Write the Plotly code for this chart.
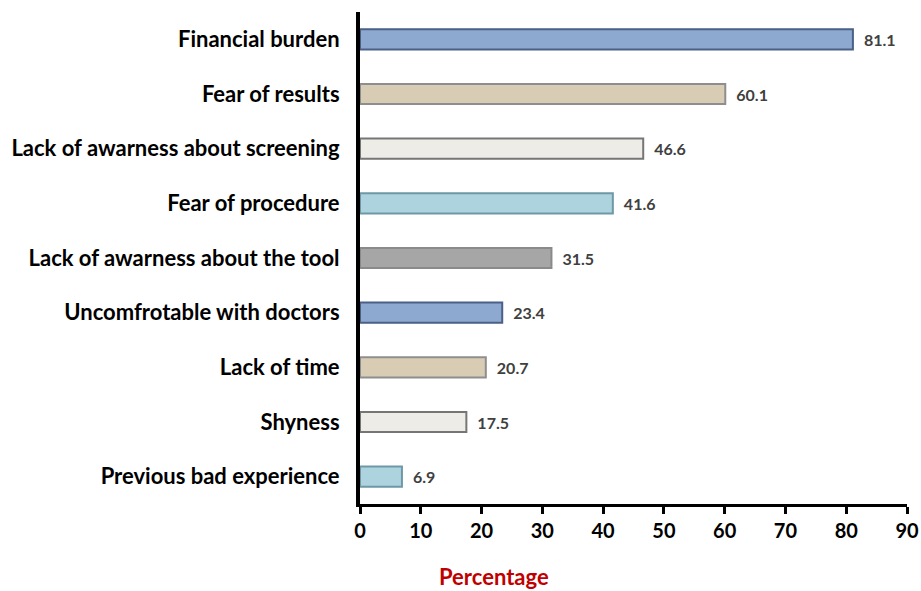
import plotly.graph_objects as go

categories = ["Financial burden", "Fear of results", "Lack of awarness about screening",
              "Fear of procedure", "Lack of awarness about the tool", "Uncomfrotable with doctors",
              "Lack of time", "Shyness", "Previous bad experience"]
values = [81.1, 60.1, 46.6, 41.6, 31.5, 23.4, 20.7, 17.5, 6.9]
fill_colors = ["#8EA9D0", "#D8CCB4", "#EEECE7", "#ADD3DE", "#A6A6A6",
               "#8EA9D0", "#D8CCB4", "#EEECE7", "#ADD3DE"]
edge_colors = ["#4A6086", "#8E8E8E", "#767676", "#6E98A6", "#8A8A8A",
               "#4A6086", "#8E8E8E", "#767676", "#6E98A6"]
x_ticks = [0, 10, 20, 30, 40, 50, 60, 70, 80, 90]

FONT = "Lato"

fig = go.Figure(go.Bar(
    x=values, y=categories, orientation="h",
    marker=dict(color=fill_colors, line=dict(color=edge_colors, width=2)),
    width=0.37,
    text=[f"\u2002{v:.1f}" for v in values], textposition="outside",
    textfont=dict(family=FONT, size=16, color="#404040", weight="bold"),
    cliponaxis=False,
))

fig.update_layout(
    width=921, height=591,
    margin=dict(l=360, r=14, t=12, b=87, autoexpand=False),
    plot_bgcolor="white", paper_bgcolor="white",
    showlegend=False,
    font=dict(family=FONT),
    annotations=[dict(text="<b>Percentage</b>", xref="paper", yref="paper",
                      x=0.245, y=-0.148, xanchor="center", yanchor="middle",
                      showarrow=False,
                      font=dict(family=FONT, size=22, color="#C00000"))],
)
fig.update_xaxes(range=[0, 90], tickvals=x_ticks, showgrid=False, zeroline=False,
                 automargin=False,
                 showline=True, linecolor="black", linewidth=3,
                 ticks="outside", ticklen=7, tickwidth=3, tickcolor="black",
                 tickfont=dict(family=FONT, size=20, color="black", weight="bold"))
fig.update_yaxes(autorange="reversed", showgrid=False, zeroline=False,
                 automargin=False,
                 showline=True, linecolor="black", linewidth=4, ticks="",
                 ticklabelstandoff=12,
                 tickfont=dict(family=FONT, size=22, color="black", weight="bold"))

fig.write_html("out.html", config={"displayModeBar": False},
               post_script="document.body.style.margin='0';")
